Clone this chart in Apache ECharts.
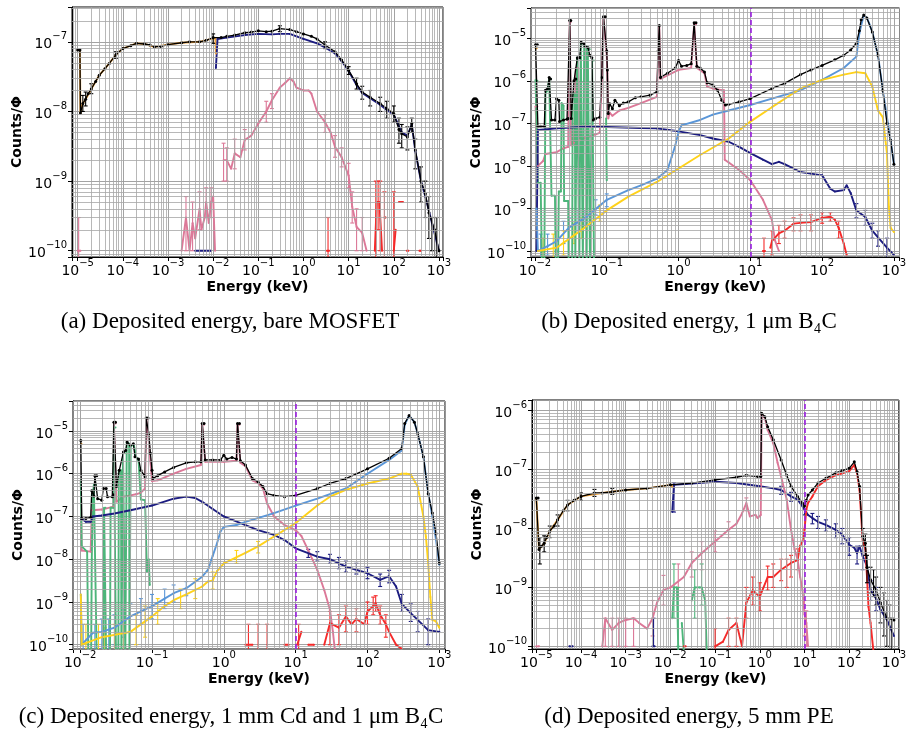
<!DOCTYPE html>
<html>
<head>
<meta charset="utf-8">
<script src="https://cdn.jsdelivr.net/npm/echarts@6/dist/echarts.min.js"></script>
<style>
  html, body { margin: 0; padding: 0; background: #fff; }
  #main { width: 909px; height: 733px; }
</style>
</head>
<body>
<div id="main"></div>
<script type="text/javascript">
// ---- (a) bare MOSFET ----
var aTotal = [[1.0e-5, 7.6e-8], [1.12e-5, 7.6e-8], [1.15e-5, 9.5e-9], [1.3e-5, 1.3e-8], [1.5e-5, 1.5e-8], [1.7e-5, 1.8e-8],
  [2e-5, 2.1e-8], [2.5e-5, 2.7e-8], [3e-5, 3.3e-8], [4e-5, 4.1e-8], [5e-5, 4.9e-8], [7e-5, 6.5e-8], [1e-4, 8e-8],
  [1.5e-4, 8.8e-8], [2e-4, 9.5e-8], [3e-4, 9.3e-8], [4e-4, 9e-8], [5e-4, 8.5e-8], [7e-4, 8.6e-8], [1e-3, 9.1e-8],
  [2e-3, 9.7e-8], [3e-3, 1.0e-7], [5e-3, 1.0e-7], [7e-3, 1.05e-7], [1e-2, 1.15e-7], [1.5e-2, 1.15e-7], [2e-2, 1.2e-7],
  [3e-2, 1.25e-7], [5e-2, 1.35e-7], [7e-2, 1.38e-7], [0.1, 1.44e-7], [0.15, 1.4e-7], [0.2, 1.42e-7], [0.3, 1.55e-7],
  [0.5, 1.5e-7], [0.7, 1.4e-7], [1, 1.3e-7], [1.5, 1.2e-7], [2, 1.1e-7], [3, 9e-8], [5, 7.2e-8], [7, 5.5e-8], [10, 3.9e-8],
  [15, 2.5e-8], [20, 1.9e-8], [30, 1.6e-8], [50, 1.3e-8], [70, 1.1e-8], [100, 9.3e-9], [130, 5.5e-9], [150, 4.8e-9],
  [200, 4.3e-9], [250, 6.7e-9], [300, 2.8e-9], [400, 1.0e-9], [500, 6.6e-10], [600, 3.5e-10], [800, 2e-10], [1000, 1e-10]];
var aTotalErr = [[1.3e-5, 1.0e-8, 1.7e-8], [1.5e-5, 1.2e-8, 1.9e-8], [2e-5, 1.8e-8, 2.5e-8], [7e-5, 5.8e-8, 7.2e-8],
  [1e-2, 9.5e-8, 1.3e-7], [0.3, 1.4e-7, 1.7e-7], [3, 8e-8, 1.0e-7], [10, 3.4e-8, 4.4e-8], [15, 2.1e-8, 3e-8],
  [20, 1.5e-8, 2.3e-8], [30, 1.2e-8, 2e-8], [50, 1.0e-8, 1.6e-8], [70, 8e-9, 1.4e-8], [100, 7e-9, 1.2e-8],
  [130, 3.5e-9, 8e-9], [150, 3e-9, 6.5e-9], [200, 2.8e-9, 6e-9], [250, 5e-9, 8e-9], [300, 1.5e-9, 4e-9],
  [400, 5e-10, 1.6e-9], [500, 3e-10, 1e-9], [600, 1.5e-10, 6e-10], [700, 1e-10, 3e-10], [800, 8e-11, 3e-10], [900, 5e-11, 3e-10]];
var aOrange = [[1.0e-5, 7.6e-8], [1.12e-5, 7.6e-8], [1.15e-5, 9.5e-9], [1.3e-5, 1.3e-8], [1.5e-5, 1.5e-8], [2e-5, 2.1e-8],
  [3e-5, 3.3e-8], [5e-5, 4.9e-8], [7e-5, 6.5e-8], [1e-4, 8e-8], [2e-4, 9.5e-8], [3e-4, 9.3e-8], [5e-4, 8.5e-8],
  [1e-3, 9.1e-8], [2e-3, 9.7e-8], [5e-3, 1.0e-7], [1e-2, 1.12e-7], [1.12e-2, 1.12e-7], [1.15e-2, 6.8e-8]];
var aNavy = [[4e-3, 1e-10], [9e-3, 1e-10], [9.2e-3, '-'], [1.15e-2, 4.2e-8], [1.25e-2, 1.1e-7], [2e-2, 1.15e-7], [5e-2, 1.25e-7],
  [0.1, 1.3e-7], [0.2, 1.28e-7], [0.3, 1.3e-7], [0.5, 1.3e-7], [0.7, 1.2e-7], [1, 1.1e-7], [2, 9.5e-8], [3, 8.3e-8],
  [5, 6.8e-8], [7, 5.3e-8], [10, 3.8e-8], [15, 2.4e-8], [20, 1.85e-8], [30, 1.55e-8], [50, 1.25e-8], [70, 1.05e-8],
  [100, 9e-9], [150, 5e-9], [200, 4.5e-9], [250, 6.5e-9], [300, 2.7e-9], [400, 1.0e-9], [500, 6e-10], [700, 2.5e-10], [1000, 1e-10]];
var aPink = [[1.0e-5, 1e-10], [1.15e-5, 1e-10], [1.2e-5, '-'], [2e-3, 1e-10], [2.5e-3, 3e-10], [3e-3, 1e-10], [3.5e-3, 2.5e-10],
  [4e-3, 1.5e-10], [5e-3, 4e-10], [5.5e-3, 2e-10], [6.5e-3, 3e-10], [7e-3, 5e-10], [8e-3, 2.5e-10], [9e-3, 5e-10],
  [1e-2, 6e-10], [1.1e-2, 1e-10], [1.2e-2, '-'], [1.7e-2, 2e-9], [2e-2, 2e-9], [2.5e-2, 1.5e-9], [3e-2, 2.5e-9],
  [4e-2, 2.2e-9], [5e-2, 3.9e-9], [7e-2, 4.5e-9], [0.1, 6.7e-9], [0.15, 1e-8], [0.2, 1.45e-8], [0.3, 2.2e-8],
  [0.4, 2.6e-8], [0.5, 3e-8], [0.6, 2.7e-8], [0.7, 2.2e-8], [1, 2e-8], [1.3, 2e-8], [1.5, 1.8e-8], [2, 1.0e-8],
  [3, 7e-9], [4, 5e-9], [5, 3.1e-9], [7, 2.2e-9], [10, 1.2e-9], [12, 4.3e-10], [15, 2.2e-10], [20, 1.8e-10], [25, 1e-10]];
var aPinkErr = [[1.05e-5, 5e-11, 3e-10], [2.5e-3, 1e-10, 6e-10], [3.5e-3, 1e-10, 5e-10], [5e-3, 2e-10, 7e-10],
  [7e-3, 3e-10, 8e-10], [9e-3, 3e-10, 8e-10], [1.7e-2, 1e-9, 3.5e-9], [2e-2, 1e-9, 3e-9], [3e-2, 1.5e-9, 4e-9],
  [5e-2, 2.8e-9, 5.5e-9], [0.15, 7e-9, 1.4e-8], [0.2, 1.1e-8, 1.8e-8], [3, 5e-9, 9e-9], [5, 2.2e-9, 4.5e-9],
  [7, 1.6e-9, 3e-9], [10, 8e-10, 1.8e-9], [12, 2.5e-10, 7e-10], [15, 1e-10, 4e-10], [20, 1e-10, 3e-10]];
var aRed = [[3.3, 1e-10], [3.7, 1e-10], [4, '-'], [38, 1e-10], [42, 5e-10], [48, 5e-10], [55, 1e-10], [58, '-'],
  [62, 3e-10], [66, 3e-10], [70, '-'], [100, 1e-10], [110, 2e-10], [120, '-'], [130, 5e-10], [160, 5e-10], [170, '-'],
  [195, 1e-10], [210, 1e-10], [220, '-'], [370, 1e-10], [400, 1e-10]];
var aRedErr = [[3.5, 5e-11, 3e-10], [40, 5e-11, 1e-9], [45, 2e-10, 1e-9], [50, 1e-10, 1e-9], [62, 5e-11, 7e-10],
  [100, 5e-11, 7e-10]];

// ---- (b) 1 um B4C ----
var bTotal = [[0.0102, 7e-6], [0.0108, 7e-6], [0.011, 8.3e-8], [0.012, 8.5e-8], [0.0135, 8.5e-8], [0.014, 6e-7], [0.015, 6.5e-7],
  [0.0158, 1.2e-6], [0.0165, 1.1e-6], [0.017, 1.2e-7], [0.019, 1.2e-7], [0.02, 3.8e-7], [0.0215, 3.5e-7], [0.022, 1.1e-7],
  [0.025, 1.2e-7], [0.028, 1.25e-7], [0.029, 1.3e-7], [0.0305, 2.6e-5], [0.0315, 2.6e-5], [0.032, 1.3e-7], [0.035, 1.0e-6],
  [0.037, 1.1e-6], [0.039, 3.5e-6], [0.042, 3.5e-6], [0.044, 8e-6], [0.048, 7.5e-6], [0.05, 6.5e-6], [0.055, 6e-6],
  [0.058, 4e-6], [0.062, 3.5e-6], [0.065, 1.2e-7], [0.07, 1.3e-7], [0.08, 1.4e-7], [0.085, 1.2e-6], [0.09, 3.2e-5],
  [0.095, 3.2e-5], [0.1, 5e-6], [0.102, 1.8e-6], [0.105, 1.7e-7], [0.11, 2.9e-7], [0.12, 2.2e-7], [0.13, 3.5e-7],
  [0.15, 2.6e-7], [0.17, 3e-7], [0.2, 3.2e-7], [0.25, 4e-7], [0.3, 4.2e-7], [0.4, 4.6e-7], [0.5, 5.5e-7], [0.52, 5e-6],
  [0.54, 2e-5], [0.56, 1.2e-6], [0.7, 1.5e-6], [0.9, 2e-6], [1.0, 3e-6], [1.1, 2.2e-6], [1.3, 2.3e-6], [1.5, 2.5e-6],
  [1.65, 2.3e-5], [1.75, 2.3e-5], [1.8, 2.2e-6], [2, 2e-6], [2.3, 1.6e-6], [2.5, 9e-7], [3, 8e-7], [3.5, 6e-7], [4, 3.5e-7],
  [4.5, 2.7e-7], [5, 2.8e-7], [7, 3.2e-7], [10, 3.8e-7], [20, 6.6e-7], [30, 8.7e-7], [50, 1.4e-6], [70, 1.8e-6],
  [100, 2.3e-6], [150, 3.1e-6], [200, 4e-6], [250, 5.3e-6], [300, 7.6e-6], [330, 1.5e-5], [350, 2.7e-5], [380, 3.5e-5],
  [420, 3e-5], [500, 1.4e-5], [600, 4e-6], [700, 6e-7], [800, 1e-7], [900, 4e-8], [1000, 1.1e-8]];
var bOrange = [[0.0102, 5.8e-6], [0.0106, 5.8e-6]];
var bGreen = [[0.0102, 1.05e-6], [0.0108, 1.0e-6], [0.011, 4e-9], [0.012, 4e-9], [0.0125, 5e-11], [0.0135, 5e-11],
  [0.014, 5e-7], [0.015, 6e-7], [0.0158, 1.15e-6], [0.0168, 1.1e-6], [0.017, 2e-9], [0.019, 2e-9], [0.0195, 5e-11],
  [0.021, 5e-11], [0.0215, 2.5e-9], [0.023, 2.5e-9], [0.0235, 3e-7], [0.025, 2.6e-7], [0.0255, 1.5e-9], [0.029, 1.5e-9],
  [0.0295, 5e-11], [0.033, 5e-11], [0.0335, 5e-7], [0.036, 5e-7], [0.0365, 5e-11], [0.038, 5e-11], [0.0385, 3.5e-6],
  [0.041, 3.5e-6], [0.0415, 5e-11], [0.043, 5e-11], [0.0435, 8e-6], [0.046, 7.5e-6], [0.0465, 5e-11], [0.048, 5e-11],
  [0.0485, 7e-6], [0.052, 6.5e-6], [0.0525, 5e-11], [0.054, 5e-11], [0.0545, 6e-6], [0.058, 5.5e-6], [0.0585, 5e-11],
  [0.062, 5e-11], [0.0625, 3e-6], [0.066, 3e-6], [0.0665, 5e-11], [0.07, '-'], [0.098, 1.3e-7], [0.1, 4.6e-9]];
var bPink = [[0.0102, 2.5e-7], [0.0108, 2.5e-7], [0.011, 1e-8], [0.013, 1.3e-8], [0.014, 1.9e-8], [0.02, 2.1e-8],
  [0.025, 2.6e-8], [0.029, 2.8e-8], [0.0305, 2.4e-5], [0.0315, 2.4e-5], [0.032, 3e-8], [0.035, 3.5e-8], [0.037, 2e-6],
  [0.04, 2e-6], [0.042, 4e-8], [0.05, 4.5e-8], [0.06, 5e-8], [0.07, 5.5e-8], [0.08, 6e-8], [0.085, 1e-6], [0.09, 3e-5],
  [0.095, 3e-5], [0.1, 4e-6], [0.102, 1.5e-6], [0.105, 1.3e-7], [0.11, 1.8e-7], [0.12, 1.5e-7], [0.15, 2e-7], [0.2, 2.3e-7],
  [0.3, 3e-7], [0.5, 4.2e-7], [0.52, 4.5e-6], [0.54, 1.8e-5], [0.56, 1.1e-6], [1, 1.8e-6], [1.5, 2e-6], [1.65, 2.1e-5],
  [1.75, 2.1e-5], [1.8, 2e-6], [2.3, 1.5e-6], [2.5, 7.3e-7], [3, 6.6e-7], [4, 6e-7], [4.3, 6e-7], [4.4, 1.4e-8],
  [5, 1.2e-8], [7, 8e-9], [10, 4.6e-9], [15, 1.6e-9], [20, 5.3e-10], [22, 1.8e-10], [25, 1e-10]];
var bNavy = [[0.0105, 1e-10], [0.011, 7e-8], [0.02, 7.6e-8], [0.05, 8.3e-8], [0.1, 8.2e-8], [0.3, 7.8e-8], [0.5, 7.6e-8],
  [1, 6.5e-8], [2, 5.3e-8], [3, 4.4e-8], [5, 3.7e-8], [7, 2.8e-8], [10, 2e-8], [15, 1.4e-8], [20, 1.1e-8], [25, 1.25e-8],
  [30, 1.1e-8], [50, 7.2e-9], [70, 6.6e-9], [100, 6e-9], [130, 2.9e-9], [150, 2.5e-9], [200, 2.7e-9], [220, 3.5e-9],
  [250, 2.3e-9], [300, 9e-10], [400, 6.3e-10], [500, 3e-10], [600, 2.1e-10], [800, 1.2e-10], [1000, 8e-11]];
var bNavyErr = [[300, 6e-10, 1.3e-9], [400, 4e-10, 9e-10], [500, 2e-10, 4.5e-10], [600, 1.3e-10, 3e-10], [800, 7e-11, 2e-10]];
var bBlue = [[0.0105, 1e-9], [0.011, 1e-10], [0.015, 1.3e-10], [0.02, 1.7e-10], [0.03, 3.6e-10], [0.05, 6e-10], [0.1, 1.6e-9],
  [0.2, 2.7e-9], [0.3, 3.5e-9], [0.5, 5e-9], [0.7, 8e-9], [0.8, 1.6e-8], [0.9, 3e-8], [1.0, 6.3e-8], [1.1, 9e-8], [2, 1.2e-7],
  [3, 1.6e-7], [5, 2e-7], [10, 2.7e-7], [20, 3.8e-7], [50, 6e-7], [60, 7e-7], [100, 1.05e-6], [200, 2e-6], [300, 3.7e-6],
  [330, 1.3e-5], [380, 3.5e-5], [420, 3e-5], [450, 2.3e-5], [500, 1.4e-5], [600, 4e-6], [700, 6e-7], [800, 1.4e-7],
  [900, 4e-8], [1000, 1.1e-8]];
var bBlueErr = [[0.012, 5e-11, 2.5e-10], [0.015, 8e-11, 2.5e-10], [0.02, 1e-10, 3e-10], [0.025, 1.5e-10, 5e-10],
  [0.03, 2e-10, 6e-10], [0.04, 3e-10, 9e-10], [0.05, 4e-10, 9e-10], [0.07, 7e-10, 1.6e-9], [0.1, 1.1e-9, 2.2e-9]];
var bYellow = [[0.011, 1e-10], [0.02, 1.2e-10], [0.05, 3.6e-10], [0.1, 9e-10], [0.2, 1.9e-9], [0.5, 4.2e-9], [1, 8.7e-9],
  [2, 1.8e-8], [5, 4.4e-8], [10, 1.1e-7], [20, 2.4e-7], [50, 6.6e-7], [100, 1.05e-6], [200, 1.4e-6], [300, 1.6e-6],
  [400, 1.5e-6], [500, 7.3e-7], [600, 2e-7], [700, 1.4e-7], [800, 2e-8], [850, 1.1e-9], [900, 3.5e-10], [1000, 2.8e-10]];
var bYellowErr = [[0.013, 5e-11, 2e-10], [0.018, 5e-11, 2.5e-10], [0.025, 8e-11, 3e-10], [0.035, 1.5e-10, 4.5e-10],
  [0.045, 2e-10, 6e-10], [0.06, 3e-10, 8e-10], [0.08, 5e-10, 1.2e-9]];
var bRed = [[15, 1e-10], [16, 1e-10], [17, '-'], [19, 1.2e-10], [20, 1.7e-10], [25, 2.6e-10], [30, 3e-10], [40, 4.4e-10],
  [50, 4.6e-10], [70, 4.8e-10], [100, 6e-10], [130, 6.4e-10], [150, 5.5e-10], [170, 3.5e-10], [200, 1.5e-10], [220, 8e-11]];
var bRedErr = [[15.5, 5e-11, 2e-10], [20, 8e-11, 3e-10], [25, 1.5e-10, 4e-10], [30, 2e-10, 5e-10], [40, 3e-10, 6e-10],
  [50, 3e-10, 7e-10], [70, 3e-10, 7e-10], [100, 4.5e-10, 8e-10], [130, 5e-10, 8e-10], [170, 2e-10, 5e-10]];

// ---- (c) 1 mm Cd and 1 um B4C ----
var cTotal = [[0.0102, 6e-6], [0.0105, 9e-8], [0.012, 9e-8], [0.014, 9.5e-8], [0.0145, 4e-7], [0.0155, 3e-7], [0.016, 9e-7],
  [0.017, 9e-7], [0.0175, 2.6e-7], [0.02, 2.4e-7], [0.021, 4.5e-7], [0.023, 4.5e-7], [0.024, 2.9e-7], [0.028, 2.9e-7],
  [0.029, 3.2e-7], [0.0295, 1.6e-5], [0.031, 1.6e-5], [0.032, 5e-7], [0.035, 1.2e-6], [0.04, 3.2e-6], [0.043, 3.5e-6],
  [0.045, 5.5e-6], [0.05, 4.6e-6], [0.055, 5e-6], [0.058, 2.5e-6], [0.065, 2.2e-6], [0.07, 1.2e-6], [0.08, 8.5e-7],
  [0.083, 2e-5], [0.088, 2e-5], [0.09, 8.6e-6], [0.095, 3e-6], [0.1, 1.2e-6], [0.103, 7.7e-7], [0.12, 9e-7],
  [0.15, 1.1e-6], [0.2, 1.4e-6], [0.3, 1.8e-6], [0.4, 1.9e-6], [0.48, 1.9e-6], [0.5, 1.5e-5], [0.53, 1.5e-5],
  [0.55, 2.1e-6], [0.7, 2.1e-6], [0.9, 2.1e-6], [1, 2.7e-6], [1.1, 2.2e-6], [1.3, 2.4e-6], [1.5, 2.2e-6], [1.55, 1.5e-5],
  [1.65, 1.5e-5], [1.7, 2e-6], [2, 1.6e-6], [2.5, 7.7e-7], [3, 6.4e-7], [3.5, 5e-7], [4, 3.4e-7], [5, 3.1e-7],
  [7, 2.9e-7], [10, 3.1e-7], [20, 4.5e-7], [30, 5.9e-7], [50, 7.7e-7], [100, 1.3e-6], [200, 2.3e-6], [300, 3.9e-6],
  [330, 1.5e-5], [380, 2.3e-5], [450, 1.6e-5], [500, 8.7e-6], [600, 2.5e-6], [700, 3.4e-7], [800, 1.2e-7], [900, 4e-8],
  [1000, 8e-9]];
var cOrange = [[0.0102, 5e-6], [0.0104, 5e-6]];
var cGreen = [[0.0102, 7e-7], [0.0105, 2e-8], [0.0125, 1.5e-8], [0.013, 5e-11], [0.0142, 5e-11], [0.0145, 1e-8],
  [0.015, 3e-7], [0.0155, 5.5e-7], [0.0165, 5.5e-7], [0.017, 5e-11], [0.021, 5e-11], [0.0215, 1.6e-7], [0.0225, 1.6e-7],
  [0.023, 5e-11], [0.026, 5e-11], [0.0265, 1.6e-7], [0.029, 1.6e-7], [0.0295, 1.2e-5], [0.031, 1.2e-5], [0.0315, 5e-11],
  [0.034, 5e-11], [0.0345, 1.2e-6], [0.037, 1.2e-6], [0.0375, 5e-11], [0.039, 5e-11], [0.0395, 3e-6], [0.042, 3e-6],
  [0.0425, 5e-11], [0.044, 5e-11], [0.0445, 5.5e-6], [0.048, 5e-6], [0.0485, 5e-11], [0.05, 5e-11], [0.0505, 4.6e-6],
  [0.056, 4.6e-6], [0.06, 2.5e-6], [0.065, 2e-6], [0.07, 2.5e-7], [0.08, 2.4e-7], [0.085, 5e-9], [0.09, 1e-8],
  [0.093, 2.5e-9]];
var cPink = [[0.0102, 7e-7], [0.0105, 1.6e-8], [0.014, 1.5e-8], [0.0145, 1.4e-7], [0.02, 1.45e-7], [0.029, 1.7e-7],
  [0.0295, 1.5e-5], [0.031, 1.5e-5], [0.032, 2.2e-7], [0.04, 2.9e-7], [0.05, 3.1e-7], [0.06, 3.3e-7], [0.07, 3.6e-7],
  [0.08, 4.5e-7], [0.083, 1.9e-5], [0.088, 1.9e-5], [0.09, 6e-6], [0.095, 2e-6], [0.1, 6.7e-7], [0.12, 7e-7], [0.2, 1e-6],
  [0.3, 1.3e-6], [0.48, 1.6e-6], [0.5, 1.4e-5], [0.53, 1.4e-5], [0.55, 1.9e-6], [1, 1.9e-6], [1.5, 2e-6], [1.55, 1.4e-5],
  [1.65, 1.4e-5], [1.7, 1.8e-6], [2, 1.5e-6], [2.5, 7e-7], [3, 6e-7], [3.5, 4.5e-7], [4, 2e-7], [5, 1e-7], [7, 6.3e-8],
  [10, 4.8e-8], [12, 3.5e-8], [15, 1.6e-8], [20, 5.6e-9], [25, 1.9e-9], [30, 6.6e-10], [33, 2e-10], [35, 8e-11]];
var cNavy = [[0.0102, 9e-8], [0.012, 7.5e-8], [0.014, 7.5e-8], [0.015, 1e-7], [0.02, 1.05e-7], [0.03, 1.17e-7],
  [0.05, 1.4e-7], [0.1, 1.8e-7], [0.2, 2.6e-7], [0.3, 2.9e-7], [0.4, 2.7e-7], [0.5, 2.2e-7], [0.7, 1.5e-7], [1, 1e-7],
  [2, 6.3e-8], [3, 4.8e-8], [5, 3.7e-8], [7, 2.8e-8], [10, 1.8e-8], [20, 1.15e-8], [30, 1e-8], [50, 6.7e-9], [100, 4.7e-9],
  [150, 3.3e-9], [200, 4e-9], [250, 2.3e-9], [300, 9e-10], [400, 5.5e-10], [500, 3.8e-10], [700, 2.2e-10], [1000, 2e-10]];
var cNavyErr = [[15, 1.1e-8, 1.7e-8], [20, 9e-9, 1.5e-8], [30, 8e-9, 1.3e-8], [40, 6e-9, 1.1e-8], [50, 5e-9, 9e-9],
  [70, 4.5e-9, 8e-9], [100, 3.5e-9, 6.5e-9], [150, 2.3e-9, 4.5e-9], [200, 2.8e-9, 5.5e-9], [300, 6e-10, 1.5e-9],
  [400, 3.5e-10, 9e-10], [500, 2e-10, 6e-10], [700, 1e-10, 4e-10]];
var cBlue = [[0.0102, 1.5e-9], [0.0105, 1e-10], [0.015, 1.9e-10], [0.02, 2e-10], [0.03, 2.5e-10], [0.05, 4.6e-10],
  [0.07, 6e-10], [0.1, 8e-10], [0.15, 1.2e-9], [0.2, 1.6e-9], [0.3, 2.1e-9], [0.5, 3.9e-9], [0.6, 5.6e-9], [0.7, 1.2e-8],
  [0.8, 2.3e-8], [0.9, 4.5e-8], [1, 5.7e-8], [1.5, 6.3e-8], [2, 7.5e-8], [5, 1.2e-7], [10, 1.8e-7], [20, 2.6e-7],
  [50, 4.5e-7], [100, 1e-6], [200, 2.1e-6], [300, 3.5e-6], [330, 1.4e-5], [380, 2.3e-5], [450, 1.6e-5], [500, 8.7e-6],
  [600, 2.5e-6], [700, 3.4e-7], [800, 1e-7], [900, 2.8e-8], [1000, 7.4e-9]];
var cBlueErr = [[0.011, 5e-11, 3e-10], [0.013, 5e-11, 3e-10], [0.016, 5e-11, 3e-10], [0.02, 5e-11, 4e-10],
  [0.025, 5e-11, 4e-10], [0.03, 1e-10, 5e-10], [0.04, 1.5e-10, 7e-10], [0.05, 2e-10, 9e-10], [0.07, 3e-10, 1.2e-9],
  [0.1, 4e-10, 1.5e-9], [0.15, 7e-10, 2e-9], [0.2, 1e-9, 2.5e-9], [0.3, 1.4e-9, 3e-9]];
var cYellow = [[0.0102, 1.5e-9], [0.0105, 1e-10], [0.02, 1.5e-10], [0.05, 2e-10], [0.1, 4.6e-10], [0.15, 8e-10],
  [0.2, 1.1e-9], [0.3, 1.5e-9], [0.5, 2.3e-9], [0.6, 3e-9], [0.7, 3.2e-9], [0.8, 5.2e-9], [1, 8e-9], [2, 1.4e-8],
  [3, 2e-8], [5, 3.4e-8], [10, 7e-8], [20, 1.8e-7], [30, 2.9e-7], [50, 4.2e-7], [100, 5.9e-7], [200, 7.7e-7], [300, 1e-6],
  [350, 1e-6], [400, 9.5e-7], [500, 5e-7], [600, 1e-7], [650, 3.4e-8], [700, 8e-9], [750, 1.3e-9], [800, 3.8e-10],
  [900, 3.5e-10], [1000, 2.5e-10]];
var cYellowErr = [[0.012, 5e-11, 3e-10], [0.018, 5e-11, 3e-10], [0.022, 5e-11, 2.5e-10], [0.03, 5e-11, 3e-10],
  [0.04, 5e-11, 3.5e-10], [0.06, 1e-10, 5e-10], [0.08, 1.5e-10, 8e-10], [0.12, 3e-10, 1.2e-9], [0.25, 7e-10, 2e-9],
  [0.4, 1.2e-9, 3.5e-9], [0.7, 2e-9, 5e-9], [1.5, 8e-9, 1.6e-8], [3, 1.4e-8, 2.6e-8]];
var cRed = [[2, 1e-10], [2.5, 1e-10], [2.7, '-'], [7, 1e-10], [8, 1e-10], [9, '-'], [10.5, 1e-10], [12, 2e-10], [13, '-'],
  [15, 1e-10], [18, 1e-10], [20, '-'], [25, 1e-10], [30, 3.2e-10], [40, 2.5e-10], [50, 4.6e-10], [60, 3e-10], [70, 4e-10],
  [90, 3e-10], [100, 6e-10], [120, 8e-10], [130, 9.3e-10], [150, 5e-10], [180, 3e-10], [200, 2e-10], [250, 1e-10], [300, 8e-11]];
var cRedErr = [[2.2, 5e-11, 3e-10], [3, 5e-11, 3e-10], [4, 5e-11, 3e-10], [11, 5e-11, 3e-10], [30, 1e-10, 6e-10],
  [40, 1e-10, 5e-10], [50, 2e-10, 8e-10], [70, 2e-10, 7e-10], [100, 3e-10, 1e-9], [120, 5e-10, 1.3e-9],
  [130, 6e-10, 1.4e-9], [150, 3e-10, 8e-10], [180, 1.5e-10, 5e-10]];

// ---- (d) 5 mm PE ----
var dTotal = [[1.0e-5, 3.3e-8], [1.1e-5, 3.3e-8], [1.15e-5, 4.4e-9], [1.3e-5, 5e-9], [1.5e-5, 5.6e-9], [1.7e-5, 7e-9],
  [2e-5, 9e-9], [2.5e-5, 1.1e-8], [3e-5, 1.4e-8], [4e-5, 2e-8], [5e-5, 2.5e-8], [7e-5, 3e-8], [1e-4, 3.5e-8], [2e-4, 4e-8],
  [3e-4, 4e-8], [5e-4, 4.2e-8], [1e-3, 4.5e-8], [3e-3, 4.8e-8], [1e-2, 5.5e-8], [3e-2, 5.9e-8], [0.1, 6.7e-8],
  [0.3, 7.4e-8], [0.5, 8e-8], [0.9, 7.6e-8], [1.05, 7.6e-8], [1.1, 9e-7], [1.3, 7.9e-7], [1.5, 5.3e-7], [2, 3.2e-7],
  [3, 1.45e-7], [4, 8e-8], [5, 5.2e-8], [7, 3.5e-8], [9, 2.7e-8], [10, 2.4e-8], [11, 3e-8], [12, 3.7e-8], [15, 4.5e-8],
  [20, 5.9e-8], [30, 7.1e-8], [50, 8.8e-8], [70, 9.6e-8], [100, 1.05e-7], [130, 1.35e-7], [150, 9.2e-8], [170, 5.2e-8],
  [200, 7.3e-9], [230, 5.6e-9], [250, 2.2e-9], [300, 1.35e-9], [400, 9e-10], [500, 5.5e-10], [700, 3e-10], [1000, 2.8e-10]];
var dTotalErr = [[1.2e-5, 2.5e-9, 7e-9], [1.5e-5, 4e-9, 7.5e-9], [2e-5, 7e-9, 1.1e-8], [3e-5, 1.1e-8, 1.7e-8],
  [5e-5, 2e-8, 3e-8], [1e-4, 3e-8, 4e-8], [2e-4, 3.5e-8, 4.6e-8], [5e-4, 3.8e-8, 4.8e-8], [200, 5e-9, 1e-8],
  [230, 3.5e-9, 8e-9], [250, 1.2e-9, 3.5e-9], [300, 8e-10, 2.2e-9], [350, 7e-10, 2e-9], [400, 5e-10, 1.5e-9],
  [500, 2.5e-10, 1e-9], [600, 1.5e-10, 8e-10], [700, 1e-10, 6e-10], [800, 8e-11, 5e-10], [900, 6e-11, 3e-10]];
var dOrange = [[1.0e-5, 3.3e-8], [1.1e-5, 3.3e-8], [1.15e-5, 4.4e-9], [1.5e-5, 5.6e-9], [2e-5, 9e-9], [3e-5, 1.4e-8],
  [5e-5, 2.5e-8], [1e-4, 3.5e-8], [3e-4, 4e-8], [1e-3, 4.5e-8], [3e-3, 4.8e-8], [1e-2, 5.5e-8], [1.1e-2, 5.5e-8], [1.12e-2, 5e-8]];
var dGreen = [[0.011, 3e-10], [0.012, 1e-9], [0.014, 1e-9], [0.015, 8e-11], [0.016, '-'], [0.018, 2.5e-10], [0.02, 8e-11],
  [0.022, '-'], [0.03, 6e-10], [0.035, 1e-9], [0.045, 1e-9], [0.05, 1e-9], [0.06, 6e-10], [0.065, 8e-11]];
var dGreenErr = [[0.012, 3e-10, 2.5e-9], [0.015, 1e-10, 1e-9], [0.035, 3e-10, 2e-9], [0.05, 5e-10, 2.5e-9]];
var dPink = [[1.0e-5, 1e-10], [1.15e-5, 1e-10], [1.2e-5, '-'], [3e-4, 1e-10], [3.5e-4, 3e-10], [5e-4, 1.9e-10],
  [7e-4, 2.5e-10], [1e-3, 2.8e-10], [1.5e-3, 3e-10], [2e-3, 2.5e-10], [3e-3, 2e-10], [4e-3, 3e-10], [5e-3, 5.5e-10],
  [7e-3, 9e-10], [1e-2, 1e-9], [2e-2, 1.5e-9], [3e-2, 2.6e-9], [5e-2, 3.8e-9], [0.1, 6e-9], [0.2, 9.5e-9], [0.3, 1.2e-8],
  [0.4, 1.8e-8], [0.5, 2.7e-8], [0.6, 1.6e-8], [0.8, 1.7e-8], [0.9, 1.5e-8], [1.05, 1.7e-8], [1.1, 8.5e-7], [1.3, 7.5e-7],
  [1.5, 4.7e-7], [2, 2.8e-7], [2.5, 1.3e-7], [3, 7.6e-8], [4, 3.1e-8], [5, 9.5e-9], [6, 4.4e-9], [7, 3e-9], [8, 1.5e-9],
  [9, 9e-10], [10, 3.5e-10], [11, 2.5e-10], [12, 1e-10]];
var dPinkErr = [[3.5e-4, 1e-10, 3e-10], [5e-4, 1e-10, 3e-10], [7e-4, 1e-10, 3e-10], [1e-3, 1e-10, 3e-10],
  [1.5e-3, 1e-10, 3e-10], [4e-3, 1.5e-10, 6e-10], [7e-3, 5e-10, 1.6e-9], [1.5e-2, 7e-10, 2.5e-9], [3e-2, 1.5e-9, 4e-9],
  [5e-2, 2e-9, 6e-9], [0.1, 4e-9, 9e-9], [0.2, 7e-9, 1.3e-8], [0.5, 2e-8, 3.3e-8], [10, 1.5e-10, 6e-10], [11, 1e-10, 4e-10]];
var dNavy = [[5.5e-5, 1e-10], [6.5e-5, 1e-10], [7e-5, '-'], [4e-3, 1e-10], [4.4e-3, 1e-10], [5e-3, '-'], [1.1e-2, 1.9e-8],
  [1.2e-2, 5.5e-8], [0.03, 5.8e-8], [0.1, 6.2e-8], [0.3, 5.9e-8], [1, 5.2e-8], [2, 4.8e-8], [3, 4.5e-8], [5, 3.5e-8],
  [7, 3.1e-8], [10, 2.1e-8], [12, 1.7e-8], [15, 1.5e-8], [20, 1.3e-8], [30, 1.15e-8], [50, 9.5e-9], [70, 7.8e-9],
  [100, 5.3e-9], [130, 4.7e-9], [150, 3.8e-9], [170, 5e-9], [200, 3.4e-9], [250, 2.3e-9], [300, 9e-10], [400, 6.5e-10],
  [500, 4.2e-10], [700, 2.8e-10], [1000, 1.5e-10]];
var dNavyErr = [[4.2e-3, 1e-10, 3e-10], [0.012, 1.9e-8, 6e-8], [3, 3.8e-8, 5.2e-8], [5, 2.9e-8, 4.1e-8], [10, 1.7e-8, 2.6e-8],
  [15, 1.2e-8, 1.8e-8], [20, 1e-8, 1.6e-8], [30, 9e-9, 1.4e-8], [50, 7e-9, 1.2e-8], [70, 5.5e-9, 1e-8],
  [100, 3.5e-9, 7e-9], [150, 2.5e-9, 5e-9], [200, 2e-9, 5e-9], [300, 6e-10, 1.3e-9], [400, 4e-10, 1e-9]];
var dRed = [[0.02, 1e-10], [0.022, 1e-10], [0.025, '-'], [0.1, 1e-10], [0.15, 1.2e-10], [0.2, 1.9e-10], [0.3, 2.5e-10],
  [0.4, 1e-10], [0.5, 5.5e-10], [0.7, 9e-10], [0.8, 8e-10], [1, 7e-10], [1.5, 1.5e-9], [2, 1.5e-9], [3, 2e-9], [5, 2.6e-9],
  [7, 2.9e-9], [8, 5.1e-9], [9, 6e-9], [10, 9.5e-9], [11, 2.1e-8], [12, 2.7e-8], [15, 3.5e-8], [20, 5.2e-8], [30, 6.6e-8],
  [50, 8e-8], [70, 8.6e-8], [100, 9.4e-8], [130, 1.2e-7], [150, 8.7e-8], [170, 4.5e-8], [200, 6.4e-9], [230, 4.5e-9],
  [250, 1.5e-9], [270, 4.7e-10], [300, 2.5e-10], [350, 8e-11]];
var dRedErr = [[0.1, 5e-11, 2e-10], [0.2, 1e-10, 3e-10], [0.3, 1e-10, 3e-10], [0.5, 3e-10, 1e-9], [0.7, 5e-10, 1.5e-9],
  [1, 4e-10, 1.2e-9], [1.5, 9e-10, 2.3e-9], [2, 1e-9, 2.5e-9], [3, 1.3e-9, 3e-9], [4, 1e-9, 3e-9], [5, 1.5e-9, 3.5e-9],
  [7, 2e-9, 4.5e-9]];

var captions = ['(a) Deposited energy, bare MOSFET', '(b) Deposited energy, 1 \u03bcm B\u2084C',
  '(c) Deposited energy, 1 mm Cd and 1 \u03bcm B\u2084C', '(d) Deposited energy, 5 mm PE'];

var colors = {
  total: '#000000', orange: '#f2a33a', navy: '#1c1c80', pink: '#dc7898',
  red: '#f52a2a', green: '#4db57a', blue: '#5a96d8', yellow: '#ffd21a'
};

// plot boxes [left, top, width, height] and axis extents as powers of ten
var boxes = [[72, 7, 371, 250], [531, 8, 372, 249], [73, 401, 372, 248], [532, 400, 370, 249]];
var xExp = [[-5.126, 3.09], [-2.055, 3.078], [-2.10, 3.079], [-5.096, 3.11]];
var yExp = [[-10.09, -6.50], [-10.14, -4.29], [-10.10, -4.30], [-10.045, -5.82]];
var capPos = [[230, 322], [689, 322], [231, 717], [689, 717]];
var showCut = [false, true, true, true];

var panelSeries = [
  [['orange', aOrange], ['navy', aNavy], ['pink', aPink], ['red', aRed], ['total', aTotal]],
  [['pink', bPink], ['green', bGreen], ['navy', bNavy], ['blue', bBlue], ['yellow', bYellow], ['red', bRed], ['orange', bOrange], ['total', bTotal]],
  [['pink', cPink], ['green', cGreen], ['navy', cNavy], ['blue', cBlue], ['yellow', cYellow], ['red', cRed], ['orange', cOrange], ['total', cTotal]],
  [['orange', dOrange], ['navy', dNavy], ['pink', dPink], ['green', dGreen], ['red', dRed], ['total', dTotal]]
];
var panelErrors = [
  [['pink', aPinkErr], ['red', aRedErr], ['total', aTotalErr]],
  [['navy', bNavyErr], ['blue', bBlueErr], ['yellow', bYellowErr], ['red', bRedErr]],
  [['navy', cNavyErr], ['blue', cBlueErr], ['yellow', cYellowErr], ['red', cRedErr]],
  [['pink', dPinkErr], ['green', dGreenErr], ['navy', dNavyErr], ['red', dRedErr], ['total', dTotalErr]]
];

// tick labels like 10^-5, exponent as a raised smaller fragment
function powLabel(v) {
  var l = Math.log(v) / Math.LN10;
  var e = Math.round(l);
  if (Math.abs(l - e) > 1e-6) return '';
  return '{b|10}{s|' + String(e).replace('-', '\u2212') + '}';
}
var labelRich = {
  b: {fontFamily: 'DejaVu Sans', fontSize: 14, lineHeight: 20, color: '#000', verticalAlign: 'bottom'},
  s: {fontFamily: 'DejaVu Sans', fontSize: 10, lineHeight: 12, color: '#000', verticalAlign: 'top'}
};

// minor grid lines at 2..9 x 10^n, as explicit segments across the plot box
function minorLines(xe, ye) {
  var out = [];
  var x0 = Math.pow(10, xe[0] + 1e-4), x1 = Math.pow(10, xe[1] - 1e-4);
  var y0 = Math.pow(10, ye[0] + 1e-4), y1 = Math.pow(10, ye[1] - 1e-4);
  function each(ext, fn) {
    for (var d = Math.floor(ext[0]); d <= Math.ceil(ext[1]); d++) {
      for (var k = 2; k <= 9; k++) {
        var v = k * Math.pow(10, d);
        var l = Math.log(v) / Math.LN10;
        if (l > ext[0] && l < ext[1]) fn(v);
      }
    }
  }
  each(xe, function (v) { out.push([{coord: [v, y0]}, {coord: [v, y1]}]); });
  each(ye, function (v) { out.push([{coord: [x0, v]}, {coord: [x1, v]}]); });
  return out;
}

function errorBars(api) {
  var lo = api.coord([api.value(0), api.value(1)]);
  var hi = api.coord([api.value(0), api.value(2)]);
  var c = api.visual('color');
  var st = {stroke: c, lineWidth: 1.1};
  return {type: 'group', children: [
    {type: 'line', shape: {x1: lo[0], y1: lo[1], x2: hi[0], y2: hi[1]}, style: st},
    {type: 'line', shape: {x1: hi[0] - 2, y1: hi[1], x2: hi[0] + 2, y2: hi[1]}, style: st},
    {type: 'line', shape: {x1: lo[0] - 2, y1: lo[1], x2: lo[0] + 2, y2: lo[1]}, style: st}
  ]};
}

var myChart = echarts.init(document.getElementById('main'));
var grids = [], xAxes = [], yAxes = [], series = [], graphics = [];

boxes.forEach(function (b, i) {
  grids.push({left: b[0], top: b[1], width: b[2], height: b[3], show: true, borderColor: '#000', borderWidth: 1,
    backgroundColor: 'transparent'});
  xAxes.push({
    type: 'log', gridIndex: i, logBase: 10,
    min: Math.pow(10, xExp[i][0]), max: Math.pow(10, xExp[i][1]),
    name: 'Energy (keV)', nameLocation: 'middle', nameGap: 23,
    nameTextStyle: {fontFamily: 'DejaVu Sans', fontWeight: 'bold', fontSize: 14, color: '#000'},
    axisLine: {show: true, onZero: false, lineStyle: {color: '#000', width: 1}},
    axisTick: {show: true, length: 4, lineStyle: {color: '#000'}},
    axisLabel: {margin: 1, formatter: powLabel, rich: labelRich},
    splitLine: {show: true, lineStyle: {color: '#999999', width: 0.9}}
  });
  yAxes.push({
    type: 'log', gridIndex: i, logBase: 10,
    min: Math.pow(10, yExp[i][0]), max: Math.pow(10, yExp[i][1]),
    name: 'Counts/\u03a6', nameLocation: 'middle', nameGap: 46,
    nameTextStyle: {fontFamily: 'DejaVu Sans', fontWeight: 'bold', fontSize: 14, color: '#000'},
    axisLine: {show: true, onZero: false, lineStyle: {color: '#000', width: 1}},
    axisTick: {show: true, length: 4, lineStyle: {color: '#000'}},
    axisLabel: {margin: 5, formatter: powLabel, rich: labelRich},
    splitLine: {show: true, lineStyle: {color: '#999999', width: 0.9}}
  });

  // minor grid
  series.push({
    type: 'line', xAxisIndex: i, yAxisIndex: i, data: [], z: 1, silent: true,
    markLine: {silent: true, symbol: 'none', animation: false, label: {show: false},
      lineStyle: {color: '#a6a6a6', width: 0.8, type: 'solid'},
      data: minorLines(xExp[i], yExp[i])}
  });

  panelSeries[i].forEach(function (s) {
    var isTotal = s[0] === 'total';
    series.push({
      type: 'line', xAxisIndex: i, yAxisIndex: i, data: s[1], z: isTotal ? 4 : 3,
      showSymbol: true, symbol: 'circle', symbolSize: isTotal ? 3 : 2, connectNulls: false,
      itemStyle: {color: colors[s[0]]},
      lineStyle: {color: colors[s[0]], width: isTotal ? 1.3 : 1.9},
      silent: true, animation: false
    });
  });

  panelErrors[i].forEach(function (s) {
    series.push({
      type: 'custom', xAxisIndex: i, yAxisIndex: i, data: s[1], z: s[0] === 'total' ? 4 : 3,
      itemStyle: {color: colors[s[0]]}, renderItem: function (params, api) { return errorBars(api); },
      clip: true, silent: true, animation: false
    });
  });

  if (showCut[i]) {
    series.push({
      type: 'line', xAxisIndex: i, yAxisIndex: i, data: [], z: 5, silent: true,
      markLine: {silent: true, symbol: 'none', animation: false, label: {show: false},
        lineStyle: {color: '#9a1de0', width: 1.6, type: [5, 3]},
        data: [{xAxis: 10}]}
    });
  }

  graphics.push({
    type: 'text', x: capPos[i][0], y: capPos[i][1],
    style: {text: captions[i], fill: '#000', font: '23px "Liberation Serif", serif',
      textAlign: 'center', textVerticalAlign: 'middle'}
  });
});

var option = {
  backgroundColor: '#ffffff',
  animation: false,
  grid: grids,
  xAxis: xAxes,
  yAxis: yAxes,
  series: series,
  graphic: graphics
};
myChart.setOption(option);
</script>
</body>
</html>
